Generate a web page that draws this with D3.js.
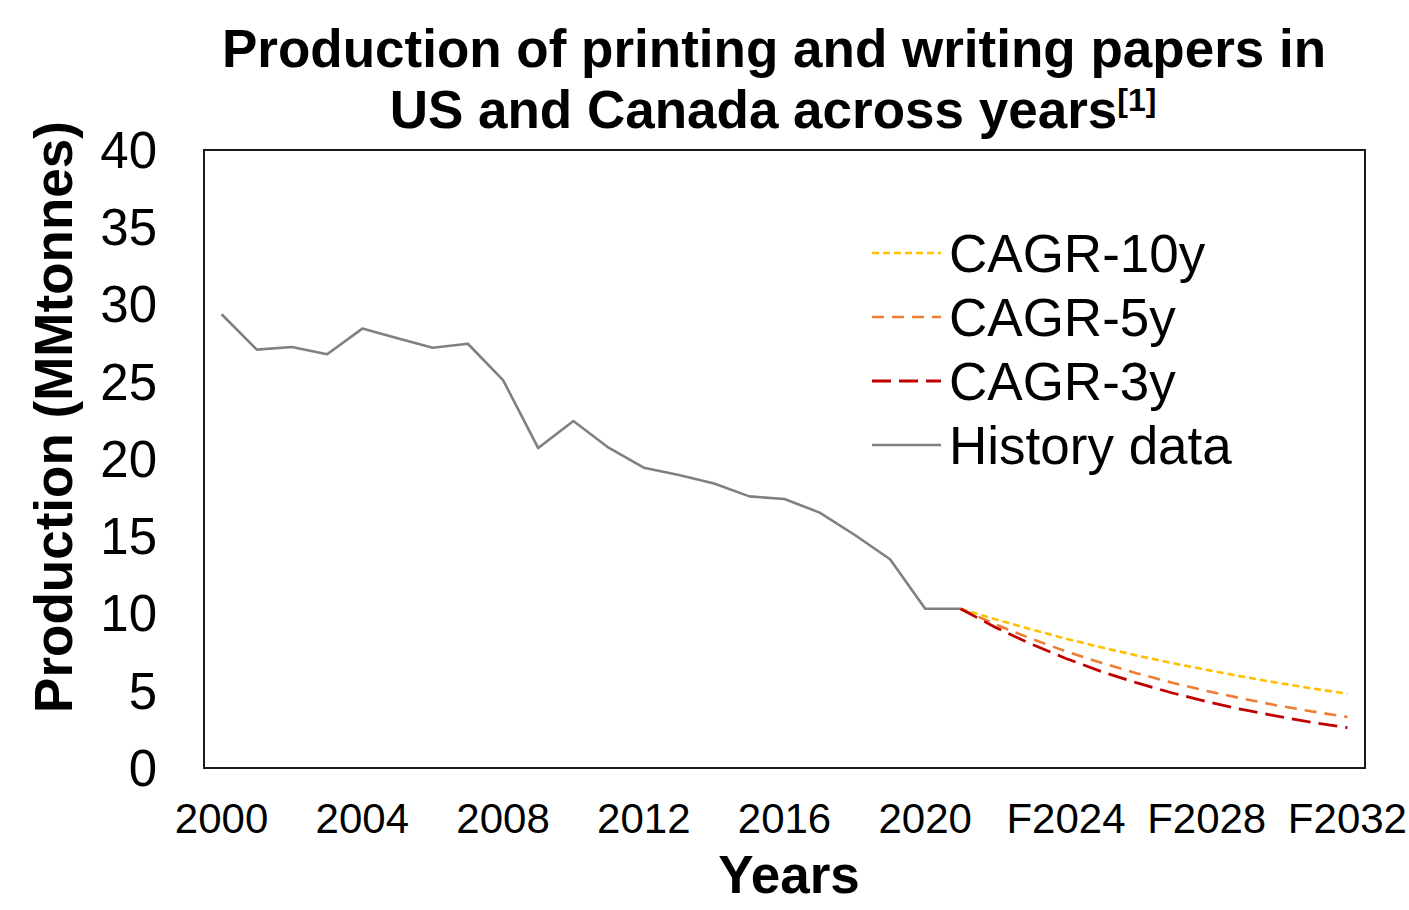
<!DOCTYPE html>
<html>
<head>
<meta charset="utf-8">
<script src="https://cdn.jsdelivr.net/npm/d3@7"></script>
<style>
  html, body { margin: 0; padding: 0; background: #fff; }
  svg { display: block; font-family: "Liberation Sans", Arial, sans-serif; }
</style>
</head>
<body>
<svg id="chart" width="1409" height="910"></svg>
<script>
// Years on the category axis: actual data up to 2021, forecast ("F") afterwards
const historyYears = ["2000","2001","2002","2003","2004","2005","2006","2007","2008","2009","2010",
                      "2011","2012","2013","2014","2015","2016","2017","2018","2019","2020","2021"];
const forecastYears = ["2021","F2022","F2023","F2024","F2025","F2026","F2027","F2028","F2029","F2030","F2031","F2032"];
const categories = historyYears.concat(forecastYears.slice(1));
const tickLabels = ["2000","2004","2008","2012","2016","2020","F2024","F2028","F2032"];
const yTicks = [0, 5, 10, 15, 20, 25, 30, 35, 40];

// Production, million tonnes
const historyData = [29.37, 27.08, 27.25, 26.78, 28.44, 27.81, 27.20, 27.46, 25.11, 20.71, 22.46,
                     20.73, 19.44, 18.96, 18.42, 17.58, 17.41, 16.53, 15.08, 13.51, 10.31, 10.31];
const cagr10y = [10.31, 9.62, 8.98, 8.37, 7.81, 7.29, 6.80, 6.35, 5.92, 5.52, 5.15, 4.81];
const cagr5y  = [10.31, 9.29, 8.38, 7.55, 6.81, 6.14, 5.53, 4.99, 4.50, 4.05, 3.66, 3.30];
const cagr3y  = [10.31, 9.10, 8.03, 7.09, 6.25, 5.52, 4.87, 4.30, 3.79, 3.35, 2.95, 2.61];

const seriesNames = ["CAGR-10y", "CAGR-5y", "CAGR-3y", "History data"];
const seriesColors = ["#FFC000", "#ED7D31", "#C00000", "#808080"];

const styles = {
  "CAGR-10y":     { dash: "7,4",  width: 2.6 },
  "CAGR-5y":      { dash: "12,8", width: 2.6 },
  "CAGR-3y":      { dash: "19,8", width: 2.8 },
  "History data": { dash: null,   width: 2.6 }
};

const svg = d3.select("#chart");
const plot = { left: 204, right: 1365, top: 150, bottom: 768 };

const x = d3.scaleBand().domain(categories).range([plot.left, plot.right]);
const xc = d => x(d) + x.bandwidth() / 2;
const y = d3.scaleLinear().domain([0, 40]).range([plot.bottom, plot.top]);

// Title
const title = svg.append("text")
  .attr("text-anchor", "middle")
  .attr("font-weight", "bold")
  .attr("font-size", 53)
  .attr("fill", "#000");
title.append("tspan").attr("x", 774).attr("y", 67).text("Production of printing and writing papers in");
const t2 = title.append("tspan").attr("x", 773).attr("y", 128);
t2.append("tspan").text("US and Canada across years");
t2.append("tspan").attr("font-size", 32).attr("dy", -17).text("[1]");

// Y axis tick labels
const yAxis = d3.axisLeft(y).tickValues(yTicks).tickSize(0).tickPadding(0);
const gy = svg.append("g").attr("transform", `translate(157,0)`).call(yAxis);
gy.select(".domain").remove();
gy.selectAll("text")
  .attr("font-size", 51)
  .attr("font-family", "Liberation Sans, Arial, sans-serif")
  .attr("fill", "#000")
  .attr("dy", "0.34em")
  .attr("x", 0);

// X axis tick labels
const xAxis = d3.axisBottom(x).tickValues(tickLabels).tickSize(0).tickPadding(0);
const gx = svg.append("g").attr("transform", `translate(0,${plot.bottom})`).call(xAxis);
gx.select(".domain").remove();
gx.selectAll("text")
  .attr("font-size", 42)
  .attr("font-family", "Liberation Sans, Arial, sans-serif")
  .attr("fill", "#000")
  .attr("dy", 0)
  .attr("y", 65);

// Axis titles
svg.append("text")
  .attr("text-anchor", "middle")
  .attr("font-weight", "bold")
  .attr("font-size", 53)
  .attr("x", 789).attr("y", 893)
  .text("Years");

svg.append("text")
  .attr("text-anchor", "middle")
  .attr("font-weight", "bold")
  .attr("font-size", 53)
  .attr("transform", "translate(72,417) rotate(-90)")
  .text("Production (MMtonnes)");

// Series lines
const line = d3.line().x(d => xc(d[0])).y(d => y(d[1]));
const seriesData = {
  "History data": historyYears.map((c, i) => [c, historyData[i]]),
  "CAGR-10y": forecastYears.map((c, i) => [c, cagr10y[i]]),
  "CAGR-5y": forecastYears.map((c, i) => [c, cagr5y[i]]),
  "CAGR-3y": forecastYears.map((c, i) => [c, cagr3y[i]])
};
["History data", "CAGR-10y", "CAGR-5y", "CAGR-3y"].forEach(name => {
  const idx = seriesNames.indexOf(name);
  svg.append("path")
    .datum(seriesData[name])
    .attr("d", line)
    .attr("fill", "none")
    .attr("stroke", seriesColors[idx])
    .attr("stroke-width", styles[name].width)
    .attr("stroke-dasharray", styles[name].dash)
    .attr("stroke-linejoin", "round");
});

// Plot frame
svg.append("rect")
  .attr("x", plot.left).attr("y", plot.top)
  .attr("width", plot.right - plot.left).attr("height", plot.bottom - plot.top)
  .attr("fill", "none")
  .attr("stroke", "#1a1a1a")
  .attr("stroke-width", 2);

// Legend
const legend = svg.append("g");
seriesNames.forEach((name, i) => {
  const cy = 253 + i * 64;
  legend.append("line")
    .attr("x1", 872).attr("x2", 941)
    .attr("y1", cy).attr("y2", cy)
    .attr("stroke", seriesColors[i])
    .attr("stroke-width", styles[name].width)
    .attr("stroke-dasharray", styles[name].dash);
  legend.append("text")
    .attr("x", 949).attr("y", cy + 19)
    .attr("font-size", 53)
    .attr("fill", "#000")
    .text(name);
});
</script>
</body>
</html>
